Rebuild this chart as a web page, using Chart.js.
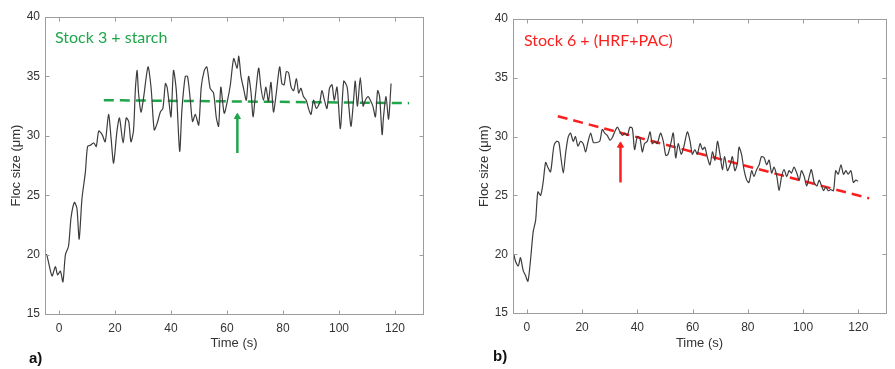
<!DOCTYPE html>
<html lang="en">
<head>
<meta charset="UTF-8">
<title>Floc size vs time</title>
<script src="https://cdn.jsdelivr.net/npm/chart.js@4"></script>
<style>
    body { margin: 0; background: #fff; width: 895px; height: 369px; position: relative; overflow: hidden; }
    canvas { position: absolute; top: 0; }
    .note { position: absolute; font-family: Lato, "Open Sans", sans-serif; font-size: 16px; line-height: 16px; white-space: nowrap; }
    .panel { position: absolute; font-family: "Liberation Sans Narrow", "Liberation Sans", sans-serif; font-weight: bold; font-size: 15px; line-height: 15px; color: #111; }
</style>
</head>
<body>
    <canvas id="chartA" width="440" height="369" style="left:0"></canvas>
    <canvas id="chartB" width="427" height="369" style="left:468px"></canvas>

    <div class="note" style="left:55px; top:29px; color:#1fa64b;">Stock 3 + starch</div>
    <div class="note" style="left:524px; top:32px; color:#fb1f1f;">Stock 6 + (HRF+PAC)</div>
    <div class="panel" style="left:29px; top:350px;">a)</div>
    <div class="panel" style="left:493px; top:348px;">b)</div>

<script>
    // axis ticks
    const xTicks = [0, 20, 40, 60, 80, 100, 120];
    const yTicks = [15, 20, 25, 30, 35, 40];

    // a) Stock 3 + starch
    const timeA = [-4.9, -4.4, -2.5, -1.3, -0.5, 0.5, 1.4, 2.3, 3.4, 4.3, 5.5, 6.4, 7.2, 8.2, 9.4, 10.2, 11.2, 12.4,
        13.3, 14.2, 15.4, 16.5, 17.7, 18.6, 19.5, 20.7, 21.6, 22.9, 24.0, 24.9, 25.7, 26.6, 27.3, 27.9, 28.4, 29.3,
        30.2, 31.8, 32.9, 34.0, 35.0, 36.2, 37.1, 38.0, 38.6, 39.2, 40.0, 40.9, 41.9, 43.1, 43.9, 45.1, 45.9, 46.9,
        47.7, 48.7, 49.9, 50.8, 51.9, 52.8, 54.0, 55.2, 56.2, 57.0, 57.8, 59.0, 60.2, 61.2, 62.4, 63.6, 64.2, 65.0,
        65.9, 66.9, 67.7, 68.6, 69.3, 70.1, 71.3, 72.1, 73.0, 73.9, 74.8, 75.7, 76.6, 77.6, 78.8, 79.6, 80.4, 81.2,
        82.0, 82.9, 83.8, 84.8, 85.6, 86.4, 87.3, 88.3, 89.1, 90.0, 90.9, 91.9, 93.1, 93.9, 94.8, 95.7, 96.6, 97.5,
        98.3, 99.3, 100.5, 101.7, 102.9, 103.5, 104.3, 105.3, 105.8, 106.6, 107.6, 108.6, 109.4, 110.4, 111.2, 112.1,
        113.0, 113.8, 114.5, 115.4, 115.9, 116.8, 117.7, 118.6];
    const flocA = [19.9, 20.0, 18.2, 19.0, 18.3, 18.6, 17.7, 20.0, 20.7, 23.1, 24.4, 23.9, 21.3, 24.7, 26.9, 29.1, 29.2, 29.4,
        29.1, 30.4, 30.1, 29.5, 31.8, 29.8, 27.7, 30.4, 31.5, 29.4, 31.5, 31.2, 29.5, 30.4, 34.0, 35.5, 33.6, 32.0,
        33.2, 35.8, 34.0, 30.5, 31.0, 32.0, 32.3, 34.4, 34.1, 33.0, 31.6, 35.5, 33.8, 28.7, 32.2, 35.0, 35.0, 33.0,
        31.2, 31.8, 30.9, 34.1, 35.5, 35.8, 34.0, 33.6, 31.5, 30.8, 34.1, 31.9, 33.0, 34.3, 36.5, 35.7, 36.7, 35.0,
        34.0, 33.0, 35.0, 33.6, 31.6, 33.3, 35.7, 34.1, 33.0, 34.1, 32.9, 34.5, 32.0, 33.6, 35.8, 34.4, 34.3, 35.4,
        35.3, 34.1, 33.8, 34.8, 33.6, 34.0, 33.3, 33.0, 32.3, 31.8, 33.0, 32.3, 32.8, 33.8, 33.0, 32.3, 34.0, 34.3,
        33.0, 34.1, 30.6, 34.6, 34.1, 32.5, 30.8, 33.3, 34.6, 32.5, 34.9, 32.5, 33.0, 33.3, 33.0, 32.5,
        31.6, 33.8, 33.3, 30.1, 31.6, 33.3, 31.4, 34.4];
    const trendTimeA = [16, 125];
    const trendFlocA = [33.0, 32.75];
    const arrowTimeA = [63.7, 63.7];
    const arrowFlocA = [28.55, 31.6];

    // b) Stock 6 + (HRF+PAC)
    const timeB = [-4.7, -4.1, -3.1, -2.3, -1.3, -0.5, 0.4, 1.3, 2.3, 3.2, 4.0, 5.0, 5.9, 6.8, 7.6, 8.6, 9.8, 10.8,
        11.6, 12.2, 13.2, 14.0, 14.9, 15.8, 16.8, 17.6, 18.5, 19.5, 20.4, 21.3, 22.1, 23.1, 24.1, 25.3, 26.4, 27.3,
        28.2, 29.1, 30.1, 30.9, 31.8, 32.8, 33.7, 34.6, 35.4, 36.4, 37.3, 38.2, 39.0, 40.0, 40.9, 41.8, 42.6, 43.6,
        44.6, 45.4, 46.3, 47.2, 48.4, 49.4, 50.3, 51.1, 52.1, 53.0, 53.9, 54.8, 55.9, 56.9, 58.1, 59.1, 59.9, 60.8,
        61.7, 62.7, 63.6, 64.4, 65.4, 66.3, 67.2, 68.1, 69.0, 69.9, 70.8, 71.6, 72.6, 73.6, 74.4, 75.3, 76.2, 76.8,
        77.7, 78.6, 79.6, 80.4, 81.4, 82.2, 83.2, 84.1, 84.9, 85.9, 86.8, 87.7, 88.6, 89.5, 90.5, 91.3, 92.2, 93.1,
        94.1, 94.9, 95.8, 96.7, 97.7, 98.6, 99.4, 100.4, 101.3, 102.2, 103.0, 104.0, 105.0, 105.8, 106.7, 107.4,
        108.2, 109.1, 110.0, 111.0, 111.8, 112.7, 113.7, 114.6, 115.5, 116.3, 117.3, 118.2, 119.1, 119.9];
    const flocB = [20.0, 19.4, 19.0, 19.7, 18.6, 18.2, 17.7, 19.4, 21.9, 22.9, 25.3, 25.0, 26.1, 27.8, 27.4, 27.0, 29.2, 29.6,
        29.5, 28.5, 26.9, 28.5, 29.9, 30.3, 29.6, 30.0, 29.2, 29.6, 29.4, 28.7, 29.5, 30.3, 29.5, 29.5, 29.6, 30.6,
        30.3, 30.1, 29.7, 29.9, 30.4, 30.8, 30.4, 30.1, 30.3, 30.1, 30.8, 30.7, 28.9, 30.0, 29.9, 28.7, 29.4, 29.6,
        30.4, 29.4, 29.6, 29.4, 30.3, 29.6, 28.4, 28.5, 29.4, 30.3, 28.2, 29.4, 28.5, 29.2, 30.4, 29.6, 28.5, 28.9,
        28.5, 29.4, 28.9, 29.1, 28.2, 27.6, 28.7, 28.0, 29.6, 28.5, 27.2, 28.3, 27.1, 27.6, 28.3, 27.1, 27.7, 29.1,
        28.5, 27.2, 26.3, 26.1, 27.1, 26.6, 27.2, 27.6, 28.3, 28.2, 27.6, 28.0, 26.9, 27.4, 26.6, 25.4, 26.6, 27.2,
        26.6, 27.1, 26.9, 27.4, 26.9, 26.3, 27.1, 26.6, 25.8, 26.6, 27.2, 26.1, 25.8, 26.3, 25.8, 25.4,
        25.7, 25.4, 25.5, 25.4, 27.1, 26.8, 27.6, 26.8, 27.1, 26.8, 27.1, 26.1, 26.3, 26.2];
    const trendTimeB = [11.2, 123.9];
    const trendFlocB = [31.73, 24.75];
    const arrowTimeB = [33.9, 33.9];
    const arrowFlocB = [26.1, 29.25];

    const fontFamily = '"Liberation Sans", Arial, sans-serif';
    const frameColor = '#9c9c9c';
    const textColor = '#333';

    // zip two arrays into {x, y} points
    function points(xs, ys) {
        return xs.map((x, i) => ({ x: x, y: ys[i] }));
    }

    // box around the plot with inward tick marks (matlab style)
    const frameTicks = {
        id: 'frameTicks',
        afterDraw(chart) {
            const { ctx, chartArea: a, scales: { x, y } } = chart;
            const L = Math.round(a.left) + 0.5, R = Math.round(a.right) + 0.5;
            const T = Math.round(a.top) + 0.5, B = Math.round(a.bottom) + 0.5;
            ctx.save();
            ctx.strokeStyle = frameColor;
            ctx.lineWidth = 1;
            ctx.strokeRect(L, T, R - L, B - T);
            ctx.beginPath();
            x.ticks.forEach(t => {
                const px = Math.round(x.getPixelForValue(t.value)) + 0.5;
                ctx.moveTo(px, B); ctx.lineTo(px, B - 4);
                ctx.moveTo(px, T); ctx.lineTo(px, T + 4);
            });
            y.ticks.forEach(t => {
                const py = Math.round(y.getPixelForValue(t.value)) + 0.5;
                ctx.moveTo(L, py); ctx.lineTo(L + 4, py);
                ctx.moveTo(R, py); ctx.lineTo(R - 4, py);
            });
            ctx.stroke();
            ctx.restore();
        }
    };

    function makeChart(id, cfg) {
        const ctx = document.getElementById(id).getContext('2d');
        return new Chart(ctx, {
            type: 'line',
            data: {
                datasets: [
                    {
                        data: points(cfg.time, cfg.floc),
                        borderColor: '#3d3d3d',
                        borderWidth: 1.2,
                        pointRadius: 0,
                        tension: 0.25
                    },
                    {
                        data: points(cfg.trendTime, cfg.trendFloc),
                        borderColor: cfg.color,
                        borderWidth: 2.5,
                        borderDash: [10, 6],
                        pointRadius: 0
                    },
                    {
                        data: points(cfg.arrowTime, cfg.arrowFloc),
                        borderColor: cfg.color,
                        backgroundColor: cfg.color,
                        borderWidth: 2.5,
                        pointStyle: 'triangle',
                        pointRadius: [0, 3.5],
                        pointBorderWidth: 1
                    }
                ]
            },
            options: {
                responsive: false,
                animation: false,
                layout: { padding: { top: cfg.padTop, right: cfg.padRight, left: 0, bottom: 0 } },
                plugins: { legend: { display: false }, tooltip: { enabled: false } },
                scales: {
                    x: {
                        type: 'linear',
                        min: -5,
                        max: 130,
                        afterBuildTicks: s => { s.ticks = xTicks.map(v => ({ value: v })); },
                        afterFit: s => { s.height = cfg.xAxisHeight; },
                        grid: { display: false, drawTicks: false },
                        border: { display: false },
                        ticks: { font: { family: fontFamily, size: 12 }, color: textColor, padding: 7, autoSkip: false, maxRotation: 0 },
                        title: { display: true, text: 'Time (s)', font: { family: fontFamily, size: 13 }, color: textColor, padding: { top: 0, bottom: 18 } }
                    },
                    y: {
                        type: 'linear',
                        min: 15,
                        max: 40,
                        afterBuildTicks: s => { s.ticks = yTicks.map(v => ({ value: v })); },
                        afterFit: s => { s.width = cfg.yAxisWidth; },
                        grid: { display: false, drawTicks: false },
                        border: { display: false },
                        ticks: { font: { family: fontFamily, size: 12 }, color: textColor, padding: 5, autoSkip: false },
                        title: { display: true, text: 'Floc size (μm)', font: { family: fontFamily, size: 13 }, color: textColor, padding: { top: 9, bottom: 0 } }
                    }
                }
            },
            plugins: [frameTicks]
        });
    }

    makeChart('chartA', {
        time: timeA, floc: flocA,
        trendTime: trendTimeA, trendFloc: trendFlocA,
        arrowTime: arrowTimeA, arrowFloc: arrowFlocA,
        color: '#1fa64b',
        padTop: 17, padRight: 17, xAxisHeight: 55, yAxisWidth: 45
    });

    makeChart('chartB', {
        time: timeB, floc: flocB,
        trendTime: trendTimeB, trendFloc: trendFlocB,
        arrowTime: arrowTimeB, arrowFloc: arrowFlocB,
        color: '#fb1f1f',
        padTop: 19, padRight: 9, xAxisHeight: 56, yAxisWidth: 45
    });
</script>
</body>
</html>
